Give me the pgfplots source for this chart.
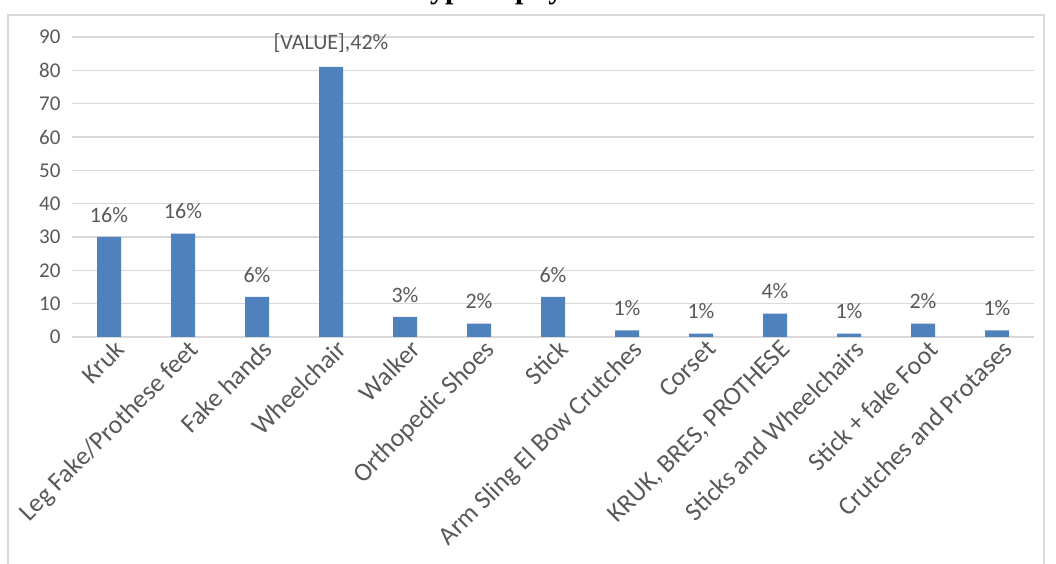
\documentclass[border=0pt]{standalone}
\usepackage{pgfplots}
\pgfplotsset{compat=1.18}
\usepackage{fontspec}
\setmainfont{Carlito}
\newfontfamily\titlefont{Liberation Serif}
\definecolor{barblue}{HTML}{4F81BD}
\definecolor{txtgray}{HTML}{595959}
\definecolor{gridgray}{HTML}{D9D9D9}
\begin{document}
\begin{tikzpicture}[x=1pt,y=1pt]
\useasboundingbox (0,0) rectangle (1056,564);
\clip (0,0) rectangle (1056,564);
\draw[gridgray, line width=1.2pt] (8,-10) -- (8,549) -- (1044,549) -- (1044,-10);
\node[anchor=base, inner sep=0pt, font=\titlefont\bfseries\fontsize{30}{34}\selectfont] at (540,565.5) {Type of physical aid};
\begin{axis}[
  at={(72pt,227pt)}, anchor=south west,
  scale only axis, width=962pt, height=300pt,
  xmin=-0.5, xmax=12.5, ymin=0, ymax=90,
  ytick={0,10,...,90},
  xtick={0,...,12},
  xticklabels={Kruk, Leg Fake/Prothese feet, Fake hands, Wheelchair, Walker, Orthopedic Shoes, Stick, Arm Sling El Bow Crutches, Corset, {KRUK, BRES, PROTHESE}, Sticks and Wheelchairs, Stick + fake Foot, Crutches and Protases},
  axis line style={draw=none},
  major tick length=0pt,
  ymajorgrids, grid style={gridgray, line width=1.2pt},
  /pgf/number format/assume math mode=true,
  yticklabel style={text=txtgray, font=\fontsize{21}{24}\selectfont, xshift=-8pt},
  xticklabel style={text=txtgray, font=\fontsize{26}{29}\selectfont, rotate=45, anchor=north east, inner sep=2pt, xshift=4pt, yshift=-2pt},
  clip=false,
]
\addplot[ybar, bar width=24pt, fill=barblue, draw=none,
  nodes near coords, point meta=explicit symbolic,
  every node near coord/.append style={text=txtgray, font=\fontsize{22}{26}\selectfont, yshift=11pt}]
  table[meta=lab] {
x y lab
0 30 16\%
1 31 16\%
2 12 6\%
3 81 {[VALUE],42\%}
4 6 3\%
5 4 2\%
6 12 6\%
7 2 1\%
8 1 1\%
9 7 4\%
10 1 1\%
11 4 2\%
12 2 1\%
};
\end{axis}
\end{tikzpicture}
\end{document}
